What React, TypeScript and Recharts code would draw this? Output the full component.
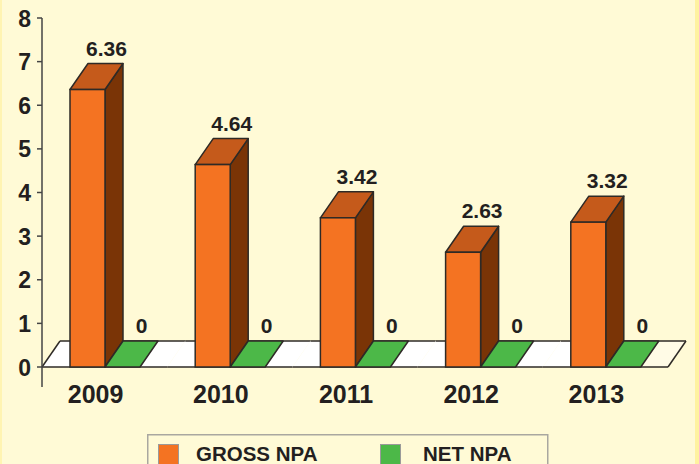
import React from 'react';
import { BarChart, Bar, XAxis, YAxis, LabelList, Legend } from 'recharts';

const categories = ['2009', '2010', '2011', '2012', '2013'];
const grossNpa = [6.36, 4.64, 3.42, 2.63, 3.32];
const netNpa = [0, 0, 0, 0, 0];
const yTicks = [0, 1, 2, 3, 4, 5, 6, 7, 8];

const data = categories.map((c, i) => ({ year: c, gross: grossNpa[i], net: netNpa[i] }));

const W = 699;
const H = 464;
const MARGIN = { top: 18, right: 31, bottom: 25, left: 0 };
const Y_AXIS_W = 42;
const PLOT_LEFT = MARGIN.left + Y_AXIS_W;
const PLOT_RIGHT = W - MARGIN.right;
const BAND = (PLOT_RIGHT - PLOT_LEFT) / categories.length;
const DX = 18;
const DY = -26;
const STROKE = '#2e2a26';
const FONT = '"Liberation Sans", Arial, Helvetica, sans-serif';
const TEXT = '#231f20';
const BG = '#fffad6';

const pts = (arr: number[][]) => arr.map((p) => p.join(',')).join(' ');

const OrangeShape = (props: any) => {
  const { x, y, width: w, height: h, index } = props;
  const y0 = y + h;
  const bx0 = PLOT_LEFT + index * BAND;
  const bx1 = bx0 + BAND;
  const last = index === categories.length - 1;
  const whiteEnd = last ? x + 2 * w : bx1;
  return (
    <g>
      <polygon
        points={pts([[bx0, y0], [whiteEnd, y0], [whiteEnd + DX, y0 + DY], [bx0 + DX, y0 + DY]])}
        fill="#ffffff"
      />
      {last && (
        <polygon
          points={pts([[whiteEnd, y0], [bx1, y0], [bx1 + DX, y0 + DY], [whiteEnd + DX, y0 + DY]])}
          fill="#fffbe6"
        />
      )}
      <line x1={bx0} y1={y0} x2={bx1} y2={y0} stroke={STROKE} strokeWidth={1.5} />
      <line x1={bx0 + DX} y1={y0 + DY} x2={bx1 + DX} y2={y0 + DY} stroke={STROKE} strokeWidth={1.5} />
      {index === 0 && (
        <>
          <line x1={bx0} y1={y0} x2={bx0 + DX} y2={y0 + DY} stroke={STROKE} strokeWidth={1.5} />
          <line x1={bx0} y1={y0} x2={bx0} y2={y0 + 20} stroke="#444" strokeWidth={1.5} />
        </>
      )}
      {last && <line x1={bx1} y1={y0} x2={bx1 + DX} y2={y0 + DY} stroke={STROKE} strokeWidth={1.5} />}
      <polygon
        points={pts([[x + w, y], [x + w + DX, y + DY], [x + w + DX, y0 + DY], [x + w, y0]])}
        fill="#7a3406"
        stroke={STROKE}
        strokeWidth={1.5}
        strokeLinejoin="round"
      />
      <polygon
        points={pts([[x, y], [x + w, y], [x + w + DX, y + DY], [x + DX, y + DY]])}
        fill="#c55a1b"
        stroke={STROKE}
        strokeWidth={1.5}
        strokeLinejoin="round"
      />
      <rect x={x} y={y} width={w} height={h} fill="#f47322" stroke={STROKE} strokeWidth={1.5} />
    </g>
  );
};

const GreenShape = (props: any) => {
  const { x, y, width: w, height: h } = props;
  const top = y;
  return (
    <g>
      {h > 0 && <rect x={x} y={y} width={w} height={h} fill="#4cb848" stroke={STROKE} strokeWidth={1.5} />}
      <polygon
        points={pts([[x, top], [x + w, top], [x + w + DX, top + DY], [x + DX, top + DY]])}
        fill="#4cb848"
        stroke={STROKE}
        strokeWidth={1.5}
        strokeLinejoin="round"
      />
    </g>
  );
};

const ValueLabel = (props: any) => {
  const { x, y, width: w, value } = props;
  return (
    <text
      x={x + w / 2 + DX + 1}
      y={y + DY - 8}
      textAnchor="middle"
      fontFamily={FONT}
      fontWeight="bold"
      fontSize={21}
      fill={TEXT}
    >
      {String(value)}
    </text>
  );
};

const XTick = (props: any) => {
  const { x, y, payload } = props;
  return (
    <text x={x - 9} y={y + 36} textAnchor="middle" fontFamily={FONT} fontWeight="bold" fontSize={25} fill={TEXT}>
      {payload.value}
    </text>
  );
};

const YTick = (props: any) => {
  const { x, y, payload } = props;
  return (
    <text x={x - 4} y={y + 8.5} textAnchor="end" fontFamily={FONT} fontWeight="bold" fontSize={23} fill={TEXT}>
      {payload.value}
    </text>
  );
};

const LegendBox = () => (
  <svg width={402} height={32} style={{ display: 'block' }}>
    <rect x={0.75} y={0.75} width={400} height={40} fill="none" stroke="#a9a7a0" strokeWidth={1.5} />
    <rect x={11.5} y={10.5} width={20} height={20} fill="#f47322" stroke="#9a9a9a" strokeWidth={1} />
    <text x={49} y={26.7} fontFamily={FONT} fontWeight="bold" fontSize={20.5} fill={TEXT}>
      GROSS NPA
    </text>
    <rect x={233.5} y={10.5} width={20} height={20} fill="#4cb848" stroke="#9a9a9a" strokeWidth={1} />
    <text x={276} y={26.7} fontFamily={FONT} fontWeight="bold" fontSize={20.5} fill={TEXT}>
      NET NPA
    </text>
  </svg>
);

export default function App() {
  return (
    <div
      style={{
        position: 'absolute',
        left: 0,
        top: 0,
        width: W,
        height: H,
        background: BG,
        overflow: 'hidden',
      }}
    >
      <div style={{ position: 'absolute', left: 0, top: 0, width: 2, height: H, background: '#fff4b2' }} />
      <div style={{ position: 'absolute', left: 695, top: 0, width: 4, height: H, background: '#fff2a0' }} />
      <BarChart width={W} height={H} data={data} margin={MARGIN} barGap={0} barSize={35}>
        <XAxis
          dataKey="year"
          axisLine={false}
          tickLine={false}
          tickSize={0}
          tickMargin={0}
          height={40}
          tick={<XTick />}
          interval={0}
        />
        <YAxis
          width={Y_AXIS_W}
          domain={[0, 8]}
          ticks={yTicks}
          interval={0}
          tickSize={5}
          tickMargin={2}
          axisLine={{ stroke: '#444', strokeWidth: 1.5 }}
          tickLine={{ stroke: '#444', strokeWidth: 1.5 }}
          tick={<YTick />}
        />
        <Legend
          content={<LegendBox />}
          wrapperStyle={{ position: 'absolute', left: 147, top: 434, width: 402, height: 32 }}
        />
        <Bar dataKey="gross" name="GROSS NPA" fill="#f47322" shape={<OrangeShape />} isAnimationActive={false}>
          <LabelList dataKey="gross" content={<ValueLabel />} />
        </Bar>
        <Bar dataKey="net" name="NET NPA" fill="#4cb848" shape={<GreenShape />} isAnimationActive={false}>
          <LabelList dataKey="net" content={<ValueLabel />} />
        </Bar>
      </BarChart>
    </div>
  );
}
